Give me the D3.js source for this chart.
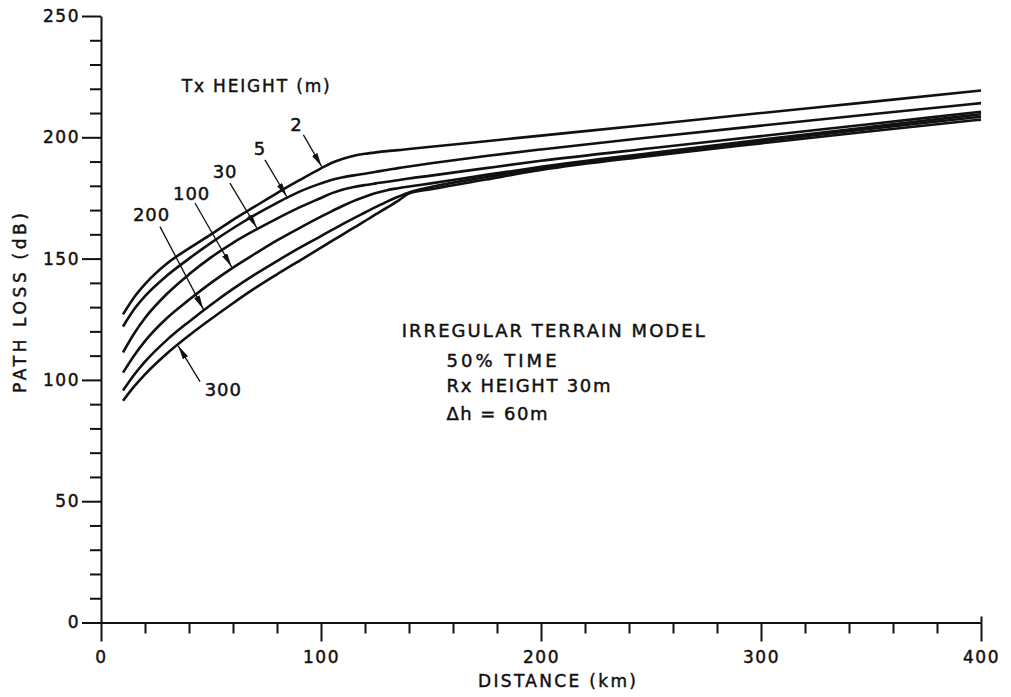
<!DOCTYPE html>
<html>
<head>
<meta charset="utf-8">
<script src="https://cdn.jsdelivr.net/npm/d3@7"></script>
<style>
  body { margin: 0; background: #fff; }
  text { font-family: "DejaVu Sans", sans-serif; fill: #111; stroke: #111; stroke-width: 0.45px; }
</style>
</head>
<body>
<div id="chart"></div>
<script>
// distance grid (km) shared by every curve
const distance = [10, 15, 20, 30, 40, 50, 60, 70, 80, 90, 100, 105, 110, 115, 120, 125, 130, 135, 140, 150, 175, 200, 250, 300, 350, 400];

// path loss (dB) for each Tx height
const loss2   = [127, 134, 139.5, 148, 154.2, 160, 166, 171.5, 177, 182.2, 187.2, 189.5, 191.2, 192.4, 193.2, 193.8, 194.3, 194.7, 195.2, 196.1, 198.4, 200.7, 205.3, 210, 214.6, 219.3];
const loss5   = [122, 129, 134.5, 143, 150, 156.5, 162.5, 168, 173, 177.5, 181, 182.5, 183.5, 184.3, 185, 185.8, 186.5, 187.3, 188, 189.3, 192.3, 195, 200, 204.8, 209.5, 214.1];
const loss30  = [111.3, 119, 125.5, 135.5, 143.5, 150.5, 156.5, 161.7, 166.5, 171, 175, 177, 178.5, 179.5, 180.3, 181, 181.7, 182.3, 183, 184.2, 187.3, 190.3, 195.5, 200.5, 205.5, 210.5];
const loss100 = [103, 110, 116, 125.5, 133, 140, 146.3, 152, 157.5, 162.5, 167.3, 169.6, 171.8, 173.8, 175.5, 177, 178.2, 179, 179.7, 181, 184.5, 187.8, 193.5, 199, 204.3, 209.5];
const loss200 = [95.6, 102, 107.5, 116.5, 124, 131, 137.5, 143.5, 149, 154.3, 159.3, 161.8, 164.3, 166.7, 169, 171.3, 173.5, 175.5, 177.3, 179.5, 183.6, 187.2, 193, 198.3, 203.5, 208.5];
const loss300 = [91.4, 97.2, 102.3, 110.9, 118.3, 125.1, 131.6, 137.8, 143.5, 149, 154.5, 157.3, 160, 162.8, 165.5, 168.3, 171, 173.8, 176.8, 178.6, 182.6, 186.5, 192.3, 197.5, 202.5, 207.3];

const txHeights = ['2', '5', '30', '100', '200', '300'];
const series = [loss2, loss5, loss30, loss100, loss200, loss300];

const xTicks = [0, 100, 200, 300, 400];
const yTicks = [0, 50, 100, 150, 200, 250];

// curve labels: text anchor (km, dB), arrow tail (km, dB), arrow tip distance (km)
const labelAt = [[88.9, 205.2], [72.3, 195.5], [56.4, 185.9], [41.2, 177], [23.0, 168.1], [55.6, 95.9]];
const tailAt  = [[92.0, 201.0], [74.5, 190.7], [58.6, 181.1], [42.7, 172.9], [26.8, 163.2], [45.0, 99.3]];
const tipKm   = [100.3, 84.4, 70.8, 59.4, 46.5, 35.1];

const noteLines = ['50% TIME', 'Rx HEIGHT 30m', '\u0394h = 60m'];

let dim = { width: 1011, height: 697 };

let svg = d3.select('#chart').append('svg')
  .attr('width', dim.width)
  .attr('height', dim.height);

let x = d3.scaleLinear().domain([0, 400]).range([101, 981]);
let y = d3.scaleLinear().domain([0, 250]).range([622.5, 16]);

// minor ticks
let xMinor = d3.range(0, 401, 20).filter(d => d % 100 !== 0);
let yMinor = d3.range(0, 251, 10).filter(d => d % 50 !== 0);

let gxMinor = svg.append('g')
  .attr('transform', `translate(0,${y(0)})`)
  .call(d3.axisBottom(x).tickValues(xMinor).tickSize(11).tickSizeOuter(0).tickFormat(''));
gxMinor.select('.domain').remove();

let gyMinor = svg.append('g')
  .attr('transform', `translate(${x(0)},0)`)
  .call(d3.axisLeft(y).tickValues(yMinor).tickSize(11).tickSizeOuter(0).tickFormat(''));
gyMinor.select('.domain').remove();

// major axes
let gx = svg.append('g')
  .attr('transform', `translate(0,${y(0)})`)
  .call(d3.axisBottom(x).tickValues(xTicks).tickSize(19).tickSizeOuter(0).tickPadding(9));

let gy = svg.append('g')
  .attr('transform', `translate(${x(0)},0)`)
  .call(d3.axisLeft(y).tickValues(yTicks).tickSize(19).tickSizeOuter(0).tickPadding(2));

// small upward stub at the right end
let gEnd = svg.append('g')
  .attr('transform', `translate(0,${y(0)})`)
  .call(d3.axisTop(x).tickValues([400]).tickSize(6).tickFormat(''));
gEnd.select('.domain').remove();

svg.selectAll('.domain, .tick line')
  .attr('stroke', '#111')
  .attr('stroke-width', 2);

svg.selectAll('.tick text')
  .attr('font-family', '"DejaVu Sans", sans-serif')
  .attr('font-size', 17)
  .attr('letter-spacing', 1.5)
  .attr('fill', '#111');

// curves
let line = d3.line()
  .x((d, i) => x(distance[i]))
  .y(d => y(d))
  .curve(d3.curveMonotoneX);

svg.selectAll('path.curve')
  .data(series)
  .enter()
  .append('path')
  .attr('class', 'curve')
  .attr('d', line)
  .attr('fill', 'none')
  .attr('stroke', '#111')
  .attr('stroke-width', 2.6)
  .attr('stroke-linejoin', 'round');

// arrowheads
svg.append('defs').append('marker')
  .attr('id', 'head')
  .attr('viewBox', '0 0 14 6')
  .attr('refX', 14)
  .attr('refY', 3)
  .attr('markerWidth', 14)
  .attr('markerHeight', 6)
  .attr('markerUnits', 'userSpaceOnUse')
  .attr('orient', 'auto')
  .append('path')
  .attr('d', 'M0,0 L14,3 L0,6 Z')
  .attr('fill', '#111');

function lossAt(s, km) {
  let i = Math.min(d3.bisectRight(distance, km) - 1, distance.length - 2);
  let t = (km - distance[i]) / (distance[i + 1] - distance[i]);
  return s[i] + t * (s[i + 1] - s[i]);
}

svg.selectAll('line.arrow')
  .data(txHeights)
  .enter()
  .append('line')
  .attr('class', 'arrow')
  .attr('x1', (d, i) => x(tailAt[i][0]))
  .attr('y1', (d, i) => y(tailAt[i][1]))
  .attr('x2', (d, i) => x(tipKm[i]))
  .attr('y2', (d, i) => y(lossAt(series[i], tipKm[i])) + (i === 5 ? 1.5 : -1.5))
  .attr('stroke', '#111')
  .attr('stroke-width', 1.3)
  .attr('marker-end', 'url(#head)');

svg.selectAll('text.hlabel')
  .data(txHeights)
  .enter()
  .append('text')
  .attr('class', 'hlabel')
  .attr('x', (d, i) => x(labelAt[i][0]))
  .attr('y', (d, i) => y(labelAt[i][1]))
  .attr('dy', '0.36em')
  .attr('text-anchor', 'middle')
  .attr('font-size', 18)
  .attr('letter-spacing', 1)
  .text(d => d);

// titles
svg.append('text')
  .attr('x', 181.7).attr('y', 91.5)
  .attr('font-size', 17)
  .attr('textLength', 148).attr('lengthAdjust', 'spacing')
  .text('Tx HEIGHT (m)');

svg.append('text')
  .attr('x', 478).attr('y', 686.5)
  .attr('font-size', 17)
  .attr('textLength', 158).attr('lengthAdjust', 'spacing')
  .text('DISTANCE (km)');

svg.append('text')
  .attr('transform', 'translate(26,393) rotate(-90)')
  .attr('font-size', 17)
  .attr('textLength', 180).attr('lengthAdjust', 'spacing')
  .text('PATH LOSS (dB)');

svg.append('text')
  .attr('x', 401.7).attr('y', 336.5)
  .attr('font-size', 18)
  .attr('textLength', 303).attr('lengthAdjust', 'spacing')
  .text('IRREGULAR TERRAIN MODEL');

let noteLen = [110, 164, 101];
svg.selectAll('text.note')
  .data(noteLines)
  .enter()
  .append('text')
  .attr('class', 'note')
  .attr('x', 446.5)
  .attr('y', (d, i) => [366.5, 391.5, 419.5][i])
  .attr('font-size', 18)
  .attr('textLength', (d, i) => noteLen[i])
  .attr('lengthAdjust', 'spacing')
  .text(d => d);
</script>
</body>
</html>
